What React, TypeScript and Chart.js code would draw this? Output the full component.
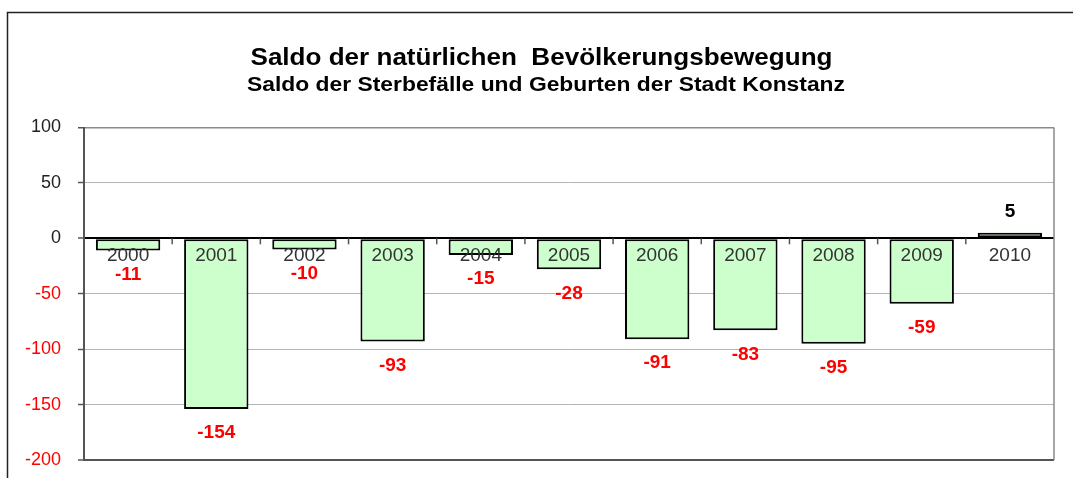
import React, { useEffect, useRef } from "react";
import { Chart, registerables } from "chart.js";

Chart.register(...registerables);

const titleText = "Saldo der natürlichen  Bevölkerungsbewegung";
const subtitleText = "Saldo der Sterbefälle und Geburten der Stadt Konstanz";
const categories = ["2000", "2001", "2002", "2003", "2004", "2005", "2006", "2007", "2008", "2009", "2010"];
const saldo = [-11, -154, -10, -93, -15, -28, -91, -83, -95, -59, 5];
const yMin = -200;
const yMax = 100;
const yStep = 50;

const FONT = "'Liberation Sans', Arial, sans-serif";

function drawStretched(ctx: CanvasRenderingContext2D, text: string, cx: number, y: number, font: string, targetW: number) {
  ctx.save();
  ctx.font = font;
  const w = ctx.measureText(text).width;
  const sx = targetW / w;
  ctx.translate(cx, y);
  ctx.scale(sx, 1);
  ctx.textAlign = "center";
  ctx.textBaseline = "alphabetic";
  ctx.fillStyle = "#000";
  ctx.fillText(text, 0, 0);
  ctx.restore();
}

const decorPlugin = {
  id: "decor",
  beforeDraw(chart: any) {
    const ctx = chart.ctx as CanvasRenderingContext2D;
    ctx.save();
    ctx.fillStyle = "#fff";
    ctx.fillRect(0, 0, chart.width, chart.height);
    ctx.strokeStyle = "#222";
    ctx.lineWidth = 1.5;
    ctx.beginPath();
    ctx.moveTo(7.5, chart.height);
    ctx.lineTo(7.5, 12.5);
    ctx.lineTo(1073, 12.5);
    ctx.stroke();
    ctx.restore();
  },
  beforeDatasetsDraw(chart: any) {
    const ctx = chart.ctx as CanvasRenderingContext2D;
    const x = chart.scales.x;
    const y = chart.scales.y;
    const y0 = y.getPixelForValue(0);
    ctx.save();
    ctx.strokeStyle = "#555";
    ctx.lineWidth = 1.5;
    for (let i = 1; i < categories.length; i++) {
      const bx = (x.getPixelForValue(i - 1) + x.getPixelForValue(i)) / 2;
      ctx.beginPath();
      ctx.moveTo(bx, y0);
      ctx.lineTo(bx, y0 + 6);
      ctx.stroke();
    }
    const area = chart.chartArea;
    ctx.strokeStyle = "#8a8a8a";
    ctx.beginPath();
    ctx.moveTo(area.right, area.top);
    ctx.lineTo(area.right, area.bottom);
    ctx.stroke();
    ctx.restore();
  },
  afterDatasetsDraw(chart: any) {
    const ctx = chart.ctx as CanvasRenderingContext2D;
    const x = chart.scales.x;
    const y = chart.scales.y;
    const y0 = y.getPixelForValue(0);
    const meta = chart.getDatasetMeta(0);
    ctx.save();
    ctx.font = `19px ${FONT}`;
    ctx.fillStyle = "#333";
    ctx.textAlign = "center";
    ctx.textBaseline = "middle";
    categories.forEach((c, i) => {
      ctx.fillText(c, x.getPixelForValue(i), y0 + 17);
    });
    ctx.font = `bold 19px ${FONT}`;
    meta.data.forEach((bar: any, i: number) => {
      const v = saldo[i];
      if (v < 0) {
        ctx.fillStyle = "#ff0000";
        ctx.fillText(String(v), bar.x, bar.y + 24);
      } else {
        ctx.fillStyle = "#000";
        ctx.fillText(String(v), bar.x, bar.y - 21);
      }
    });
    ctx.restore();
    drawStretched(ctx, titleText, 541.5, 64.5, `bold 23px ${FONT}`, 582);
    drawStretched(ctx, subtitleText, 546, 91, `bold 19.5px ${FONT}`, 598);
  },
};

export default function App() {
  const ref = useRef<HTMLCanvasElement | null>(null);
  useEffect(() => {
    if (!ref.current) return;
    const chart = new Chart(ref.current, {
      type: "bar",
      data: {
        labels: categories,
        datasets: [
          {
            data: saldo,
            backgroundColor: "#CCFFCC",
            borderColor: "#000",
            borderWidth: 2,
            borderSkipped: false,
            barPercentage: 0.73,
            categoryPercentage: 1,
          },
        ],
      },
      options: {
        animation: false,
        responsive: false,
        devicePixelRatio: 1,
        layout: { padding: { top: 127.5, bottom: 18, right: 20, left: 0 } },
        plugins: { legend: { display: false }, title: { display: false }, tooltip: { enabled: false } },
        scales: {
          x: { display: false },
          y: {
            min: yMin,
            max: yMax,
            afterFit: (scale: any) => {
              scale.width = 84;
              scale.paddingTop = 0;
              scale.paddingBottom = 0;
            },
            ticks: {
              stepSize: yStep,
              padding: 17,
              font: { family: FONT, size: 18 },
              color: (ctx: any) => (ctx.tick && ctx.tick.value < 0 ? "#ff0000" : "#222"),
            },
            border: { display: true, color: "#555", width: 2 },
            grid: {
              drawTicks: true,
              tickLength: 6,
              tickColor: "#555",
              tickWidth: 1.5,
              color: (ctx: any) => {
                const v = ctx.tick ? ctx.tick.value : null;
                if (v === 0) return "#000";
                if (v === yMin) return "#555";
                if (v === yMax) return "#8a8a8a";
                return "#b4b4b4";
              },
              lineWidth: (ctx: any) => {
                const v = ctx.tick ? ctx.tick.value : null;
                if (v === 0 || v === yMin) return 2;
                if (v === yMax) return 1.5;
                return 1;
              },
            },
          },
        },
      },
      plugins: [decorPlugin],
    });
    return () => chart.destroy();
  }, []);
  return (
    <div style={{ position: "fixed", left: 0, top: 0 }}>
      <canvas ref={ref} width={1074} height={478} style={{ display: "block" }} />
    </div>
  );
}
